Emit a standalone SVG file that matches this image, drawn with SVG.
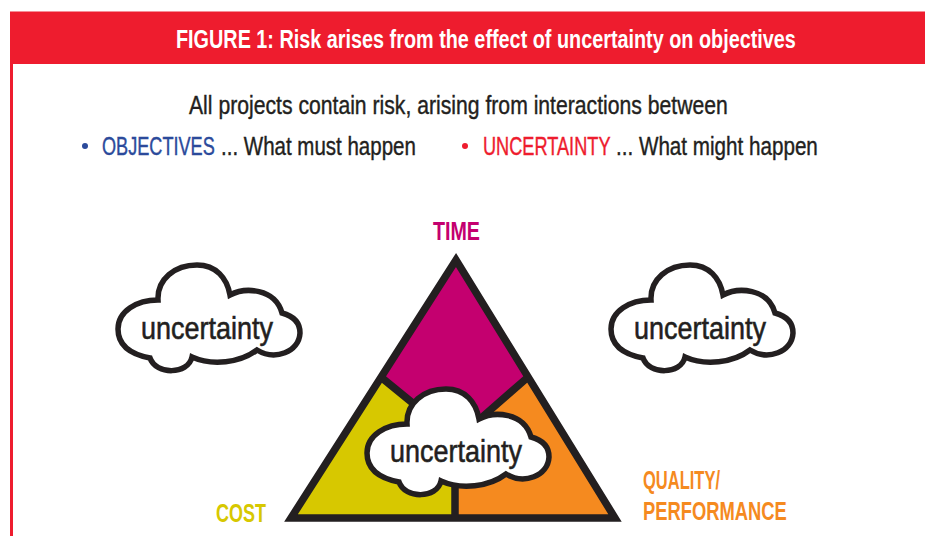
<svg xmlns="http://www.w3.org/2000/svg" width="925" height="536" viewBox="0 0 925 536">
<style>
text{font-family:"Liberation Sans",Arial,sans-serif;font-size:25px;fill:#231f20;stroke:#231f20;stroke-width:.4px}
.b{font-weight:bold;stroke:none}
.c{fill:#fff;stroke:#231f20;stroke-width:5.500;stroke-linejoin:miter}
.l{fill:none;stroke:#231f20;stroke-width:7.500}
.u{font-size:32px;stroke-width:.6px}
.blue{fill:#2b4a9b;stroke:#2b4a9b}
.red{fill:#ee1c2e;stroke:#ee1c2e}
</style>
<defs>
<path id="cloud" class="c" d="M158 300C157 279 175 265 197 265C216 265 227 278 230 295C245 287 275 288 282 313C297 317 300 326 300 333C299 352 275 361 257 350C240 363 212 366 192 357C188 375 156 375 150 358C129 354 118 344 118 329C118 311 137 300 158 300Z"/>
</defs>
<g id="frame">
<rect x="10" y="11.500" width="915" height="52.500" fill="#ee1c2e"/>
<rect x="10" y="64" width="3" height="472" fill="#ee1c2e"/>
<text transform="translate(176 47.500) scale(.793 1)" class="b" style="fill:#fff">FIGURE 1: Risk arises from the effect of uncertainty on objectives</text>
</g>
<g id="intro">
<text transform="translate(189 114) scale(.847 1)">All projects contain risk, arising from interactions between</text>
<circle cx="85" cy="146" r="3" fill="#2b4a9b"/>
<text transform="translate(102 154.500) scale(.725 1)" class="blue">OBJECTIVES</text>
<text transform="translate(221 154.500) scale(.82 1)">... What must happen</text>
<circle cx="465" cy="146" r="3" fill="#ee1c2e"/>
<text transform="translate(483 154.500) scale(.727 1)" class="red">UNCERTAINTY</text>
<text transform="translate(616 154.500) scale(.826 1)">... What might happen</text>
</g>
<g id="triangle">
<polygon points="456,260 527,378 456,440 382,378" fill="#c4006f"/>
<polygon points="382,378 456,440 455,518 291,518" fill="#d7c800"/>
<polygon points="527,378 456,440 455,518 615,518" fill="#f58a1f"/>
</g>
<g id="connectors">
<polygon class="l" points="456,260 615,518 291,518"/>
<path class="l" d="M382 378L420 409M527 378L480 419M455 480V518"/>
</g>
<g id="cloud-left">
<use href="#cloud"/>
<text transform="translate(141 338.500) scale(.843 1)" class="u">uncertainty</text>
</g>
<g id="cloud-right">
<use href="#cloud" x="493"/>
<text transform="translate(634 338.500) scale(.843 1)" class="u">uncertainty</text>
</g>
<g id="cloud-center">
<use href="#cloud" x="249" y="124"/>
<text transform="translate(390 461.500) scale(.843 1)" class="u">uncertainty</text>
</g>
<g id="labels">
<text transform="translate(433 239.500) scale(.787 1)" class="b" style="fill:#c4006f">TIME</text>
<text transform="translate(216 521.500) scale(.72 1)" class="b" style="fill:#d7c800">COST</text>
<text transform="translate(643 488.500) scale(.66 1)" class="b" style="fill:#f58a1f">QUALITY/</text>
<text transform="translate(643 519.500) scale(.735 1)" class="b" style="fill:#f58a1f">PERFORMANCE</text>
</g>
</svg>
